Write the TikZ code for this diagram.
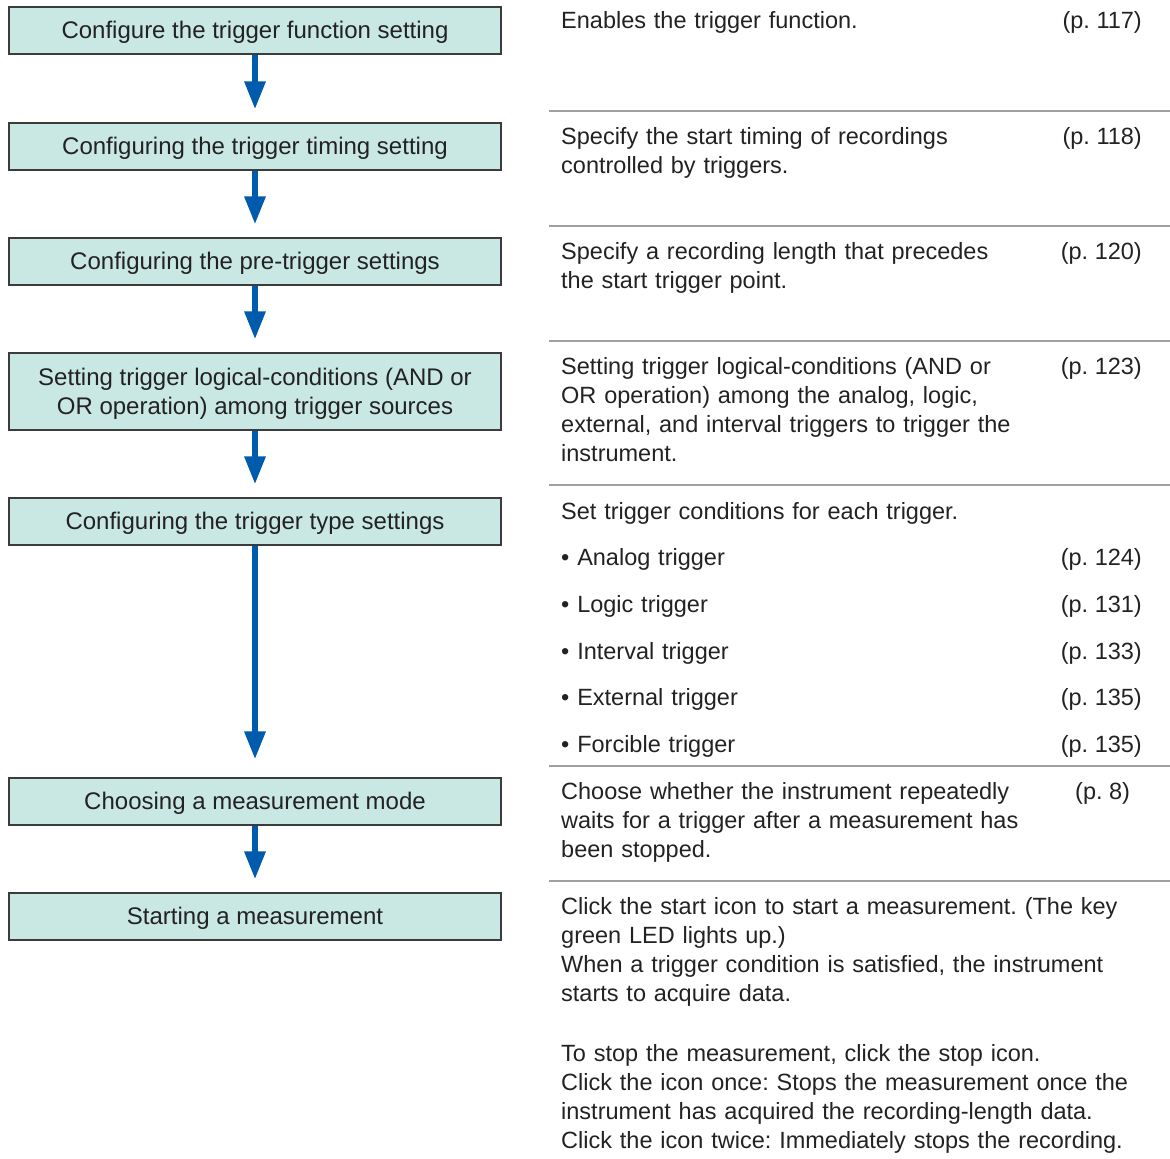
\documentclass[tikz,border=0pt]{standalone}
\usepackage{fontspec}
\setmainfont{Liberation Sans}
\frenchspacing
\usetikzlibrary{arrows.meta, positioning}
\definecolor{boxfill}{HTML}{C9E7E3}
\definecolor{boxline}{HTML}{3C3C3C}
\definecolor{flowblue}{HTML}{005BAC}
\definecolor{sepgrey}{HTML}{A0A0A0}
\definecolor{ink}{HTML}{222222}
\tikzset{
  every picture/.style={x=1pt, y=-1pt},
  stepbox/.style={draw=boxline, fill=boxfill, line width=1.2pt, minimum width=492pt, minimum height=47pt,
    inner sep=0pt, align=center, text=ink, font=\fontsize{24}{29.3}\selectfont},
  oneline/.style={text height=21.5pt, text depth=5pt},
  flow/.style={-{Triangle[width=20pt, length=28pt]}, draw=flowblue, line width=6pt},
  sep/.style={draw=sepgrey, line width=1.5pt},
  desc/.style={anchor=base west, inner sep=0pt, text width=600pt, align=left, text=ink,
    font=\fontsize{23.5}{29.3}\selectfont},
  pref/.style={anchor=base east, inner sep=0pt, text=ink, font=\fontsize{23.5}{29.3}\selectfont},
}

\begin{document}
\begin{tikzpicture}
  \useasboundingbox (0,0) rectangle (1170,1159);
  % flow of steps
  \node[stepbox, oneline] (func) at (255,30.5) {Configure the trigger function setting};
  \node[stepbox, oneline] (timing) at (255,146.5) {Configuring the trigger timing setting};
  \node[stepbox, oneline] (pretrig) at (255,261.5) {Configuring the pre-trigger settings};
  \node[stepbox, minimum height=77pt] (logic) at (255,391.5) {\rule{0pt}{21.5pt}Setting trigger logical-conditions (AND or\\OR operation) among trigger sources};
  \node[stepbox, oneline] (type) at (255,521.5) {Configuring the trigger type settings};
  \node[stepbox, oneline] (mode) at (255,801.5) {Choosing a measurement mode};
  \node[stepbox, oneline] (start) at (255,916.5) {Starting a measurement};

  \draw[flow, shorten >=13pt] (func.south) -- (timing.north);
  \draw[flow, shorten >=13pt] (timing.south) -- (pretrig.north);
  \draw[flow, shorten >=13pt] (pretrig.south) -- (logic.north);
  \draw[flow, shorten >=13pt] (logic.south) -- (type.north);
  \draw[flow, shorten >=18pt] (type.south) -- (mode.north);
  \draw[flow, shorten >=13pt] (mode.south) -- (start.north);

  % separators
  \foreach \y in {111,226,341,485,766,881}
    \draw[sep] (549,\y) -- (1170,\y);

  % descriptions
  \node[desc] (dfunc) at (561,28) {Enables the trigger function.};
  \node[pref] (pfunc) at (1142,28) {(p. 117)};
  \node[desc] (dtiming) at (561,144) {Specify the start timing of recordings\\controlled by triggers.};
  \node[pref] (ptiming) at (1142,144) {(p. 118)};
  \node[desc] (dpretrig) at (561,259) {Specify a recording length that precedes\\the start trigger point.};
  \node[pref] (ppretrig) at (1142,259) {(p. 120)};
  \node[desc] (dlogic) at (561,374) {Setting trigger logical-conditions (AND or\\OR operation) among the analog, logic,\\external, and interval triggers to trigger the\\instrument.};
  \node[pref] (plogic) at (1142,374) {(p. 123)};
  \node[desc] (dtype) at (561,519) {Set trigger conditions for each trigger.};
  \node[desc] (danalog) at (561,565) {• Analog trigger};
  \node[pref] (panalog) at (1142,565) {(p. 124)};
  \node[desc] (dlogtrig) at (561,612) {• Logic trigger};
  \node[pref] (plogtrig) at (1142,612) {(p. 131)};
  \node[desc] (dinterval) at (561,659) {• Interval trigger};
  \node[pref] (pinterval) at (1142,659) {(p. 133)};
  \node[desc] (dexternal) at (561,705) {• External trigger};
  \node[pref] (pexternal) at (1142,705) {(p. 135)};
  \node[desc] (dforce) at (561,752) {• Forcible trigger};
  \node[pref] (pforce) at (1142,752) {(p. 135)};
  \node[desc] (dmode) at (561,799) {Choose whether the instrument repeatedly\\waits for a trigger after a measurement has\\been stopped.};
  \node[pref, anchor=base west] (pmode) at (1075,799) {(p. 8)};
  \node[desc] (dstart) at (561,914) {Click the start icon to start a measurement. (The key\\green LED lights up.)\\When a trigger condition is satisfied, the instrument\\starts to acquire data.};
  \node[desc] (dstop) at (561,1061) {To stop the measurement, click the stop icon.\\Click the icon once: Stops the measurement once the\\instrument has acquired the recording-length data.\\Click the icon twice: Immediately stops the recording.};
\end{tikzpicture}
\end{document}
